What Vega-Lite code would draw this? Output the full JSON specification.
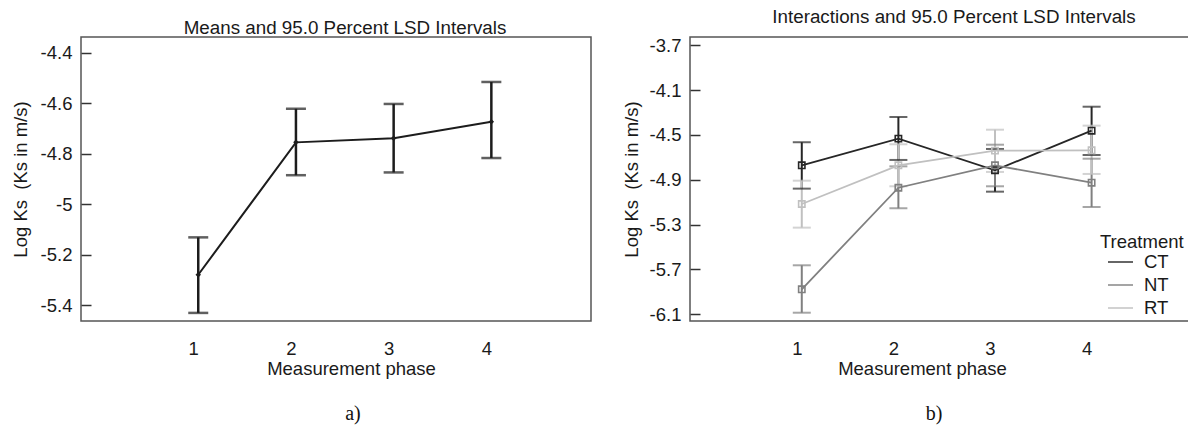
{
  "$schema": "https://vega.github.io/schema/vega-lite/v6.json",
  "background": "white",
  "padding": {"left": 10, "top": 7, "right": 0, "bottom": 0},
  "spacing": 29,
  "datasets": {
    "means": [
      {"phase": 1, "mean": -5.279, "lower": -5.430, "upper": -5.131},
      {"phase": 2, "mean": -4.755, "lower": -4.885, "upper": -4.622},
      {"phase": 3, "mean": -4.739, "lower": -4.874, "upper": -4.603},
      {"phase": 4, "mean": -4.673, "lower": -4.817, "upper": -4.516}
    ],
    "inter": [
      {"Treatment": "CT", "phase": 1, "mean": -4.771, "lower": -4.979, "upper": -4.565},
      {"Treatment": "CT", "phase": 2, "mean": -4.533, "lower": -4.723, "upper": -4.340},
      {"Treatment": "CT", "phase": 3, "mean": -4.815, "lower": -5.006, "upper": -4.625},
      {"Treatment": "CT", "phase": 4, "mean": -4.462, "lower": -4.679, "upper": -4.248},
      {"Treatment": "NT", "phase": 1, "mean": -5.877, "lower": -6.086, "upper": -5.663},
      {"Treatment": "NT", "phase": 2, "mean": -4.971, "lower": -5.154, "upper": -4.780},
      {"Treatment": "NT", "phase": 3, "mean": -4.771, "lower": -4.958, "upper": -4.587},
      {"Treatment": "NT", "phase": 4, "mean": -4.926, "lower": -5.143, "upper": -4.712},
      {"Treatment": "RT", "phase": 1, "mean": -5.116, "lower": -5.327, "upper": -4.908},
      {"Treatment": "RT", "phase": 2, "mean": -4.771, "lower": -4.958, "upper": -4.583},
      {"Treatment": "RT", "phase": 3, "mean": -4.640, "lower": -4.830, "upper": -4.453},
      {"Treatment": "RT", "phase": 4, "mean": -4.637, "lower": -4.848, "upper": -4.417}
    ],
    "capA": [{"label": "a)"}],
    "capB": [{"label": "b)"}]
  },
  "config": {
    "font": "Liberation Sans",
    "view": {"stroke": "#555555", "strokeWidth": 1.5},
    "axis": {"labelFont": "Liberation Sans", "titleFont": "Liberation Sans", "labelColor": "#1a1a1a", "titleColor": "#1a1a1a", "labelFontSize": 18.5, "titleFontSize": 18.5, "titleFontWeight": "normal", "grid": false, "domain": false},
    "axisX": {"ticks": false, "labelPadding": 18, "titlePadding": 1.5, "labelAngle": 0, "labelOffset": -5},
    "axisY": {"tickSize": -10, "tickColor": "#333333", "tickWidth": 1.5, "labelPadding": 19, "titlePadding": 8},
    "title": {"font": "Liberation Sans", "fontSize": 18.8, "fontWeight": "normal", "color": "#1a1a1a", "baseline": "alphabetic"},
    "legend": {"titleFont": "Liberation Sans", "labelFont": "Liberation Sans", "titleFontSize": 18.5, "labelFontSize": 18.5, "titleFontWeight": "normal", "titleColor": "#1a1a1a", "labelColor": "#1a1a1a"}
  },
  "hconcat": [
    {
      "spacing": 20,
      "vconcat": [
        {
          "width": 510,
          "height": 284,
          "title": {"text": "Means and 95.0 Percent LSD Intervals", "offset": -0.5, "dx": 9},
          "data": {"name": "means"},
          "encoding": {
            "x": {"field": "phase", "type": "quantitative", "title": "Measurement phase",
                  "scale": {"domain": [-0.2, 5.02], "nice": false, "zero": false},
                  "axis": {"values": [1, 2, 3, 4], "titleX": 270}}
          },
          "layer": [
            {
              "mark": {"type": "rule", "strokeWidth": 2.5, "color": "#1c1c1c"},
              "encoding": {
                "y": {"field": "lower", "type": "quantitative", "title": "Log Ks\u00a0 (Ks in m/s)",
                      "scale": {"domain": [-5.462, -4.338], "nice": false, "zero": false},
                      "axis": {"values": [-5.4, -5.2, -5, -4.8, -4.6, -4.4], "labelExpr": "'' + datum.value", "titlePadding": 10}},
                "y2": {"field": "upper"}
              }
            },
            {
              "mark": {"type": "tick", "orient": "horizontal", "size": 20, "thickness": 2.5, "color": "#1c1c1c"},
              "encoding": {"y": {"field": "lower", "type": "quantitative", "title": "Log Ks\u00a0 (Ks in m/s)"}}
            },
            {
              "mark": {"type": "tick", "orient": "horizontal", "size": 20, "thickness": 2.5, "color": "#1c1c1c"},
              "encoding": {"y": {"field": "upper", "type": "quantitative", "title": "Log Ks\u00a0 (Ks in m/s)"}}
            },
            {
              "mark": {"type": "line", "strokeWidth": 2, "color": "#1c1c1c",
                       "point": {"shape": "diamond", "size": 30, "filled": true, "color": "#1c1c1c"}},
              "encoding": {"y": {"field": "mean", "type": "quantitative", "title": "Log Ks\u00a0 (Ks in m/s)"}}
            }
          ]
        },
        {
          "width": 510,
          "height": 30,
          "view": {"stroke": null},
          "data": {"name": "capA"},
          "mark": {"type": "text", "font": "Liberation Serif", "fontSize": 20, "color": "#111111", "dx": 17},
          "encoding": {"text": {"field": "label"}}
        }
      ]
    },
    {
      "spacing": 20,
      "vconcat": [
        {
          "width": 510,
          "height": 284,
          "title": {"text": "Interactions and 95.0 Percent LSD Intervals", "offset": 9, "dx": 9},
          "data": {"name": "inter"},
          "encoding": {
            "x": {"field": "phase", "type": "quantitative", "title": "Measurement phase",
                  "scale": {"domain": [-0.157, 5.122], "nice": false, "zero": false},
                  "axis": {"values": [1, 2, 3, 4], "titleX": 232}},
            "xOffset": {"field": "Treatment", "type": "nominal",
                        "scale": {"type": "point", "domain": ["NT", "RT", "CT"], "range": [-15, 15]}},
            "color": {"field": "Treatment", "type": "nominal",
                      "scale": {"domain": ["CT", "NT", "RT"], "range": ["#262626", "#808080", "#c0c0c0"]},
                      "legend": {"orient": "none", "legendX": 1019, "legendY": 196, "symbolType": "stroke", "symbolSize": 625, "symbolStrokeWidth": 2, "symbolOffset": 7, "labelOffset": 10, "rowPadding": 0, "titlePadding": -3}}
          },
          "layer": [
            {
              "mark": {"type": "rule", "strokeWidth": 2},
              "encoding": {
                "y": {"field": "lower", "type": "quantitative", "title": "Log Ks\u00a0 (Ks in m/s)",
                      "scale": {"domain": [-6.16, -3.626], "nice": false, "zero": false},
                      "axis": {"values": [-6.1, -5.7, -5.3, -4.9, -4.5, -4.1, -3.7], "labelExpr": "'' + datum.value"}},
                "y2": {"field": "upper"}
              }
            },
            {
              "mark": {"type": "tick", "orient": "horizontal", "size": 18, "thickness": 2},
              "encoding": {"y": {"field": "lower", "type": "quantitative", "title": "Log Ks\u00a0 (Ks in m/s)"}}
            },
            {
              "mark": {"type": "tick", "orient": "horizontal", "size": 18, "thickness": 2},
              "encoding": {"y": {"field": "upper", "type": "quantitative", "title": "Log Ks\u00a0 (Ks in m/s)"}}
            },
            {
              "mark": {"type": "line", "strokeWidth": 1.8},
              "encoding": {"y": {"field": "mean", "type": "quantitative", "title": "Log Ks\u00a0 (Ks in m/s)"}}
            },
            {
              "mark": {"type": "point", "shape": "square", "size": 40, "filled": false, "strokeWidth": 1.6, "opacity": 1},
              "encoding": {"y": {"field": "mean", "type": "quantitative", "title": "Log Ks\u00a0 (Ks in m/s)"}}
            }
          ]
        },
        {
          "width": 510,
          "height": 30,
          "view": {"stroke": null},
          "data": {"name": "capB"},
          "mark": {"type": "text", "font": "Liberation Serif", "fontSize": 20, "color": "#111111", "dx": -11},
          "encoding": {"text": {"field": "label"}}
        }
      ]
    }
  ]
}
